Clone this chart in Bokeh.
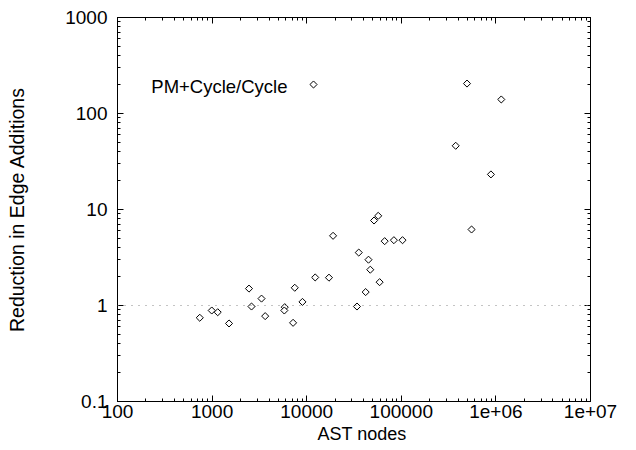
import numpy as np
from bokeh.plotting import figure
from bokeh.models import (LogAxis, FixedTicker, CustomJSTickFormatter, Span, Label, Title,
                          ColumnDataSource, Range1d, LinearScale)
from bokeh.embed import file_html
from bokeh.resources import INLINE

# ---- data ----
ast_nodes = [741, 991, 1146, 1510, 2455, 2610, 3330, 3640, 5860, 5800, 7180, 7480,
             9020, 12300, 17200, 19000, 34000, 35500, 42000, 45000, 47000, 51500,
             57000, 59000, 66700, 83500, 103000, 376000, 553000, 495000, 886000, 1140000]
reduction = [0.745, 0.887, 0.851, 0.65, 1.50, 0.976, 1.18, 0.775, 0.961, 0.887, 0.66, 1.53,
             1.09, 1.96, 1.95, 5.32, 0.976, 3.56, 1.38, 3.0, 2.36, 7.68,
             8.59, 1.75, 4.68, 4.79, 4.79, 46.1, 6.19, 205, 23.2, 140]

x_tick_values = [100, 1000, 10000, 100000, 1000000, 10000000]
x_tick_labels = ["100", "1000", "10000", "100000", "1e+06", "1e+07"]
y_tick_values = [0.1, 1, 10, 100, 1000]
y_tick_labels = ["0.1", "1", "10", "100", "1000"]

series_name = "PM+Cycle/Cycle"
x_title = "AST nodes"
y_title = "Reduction in Edge Additions"

FONT = "Liberation Sans"
FRAME_W, FRAME_H = 473, 384


def minor_of(vals):
    out = []
    for v in vals[:-1]:
        for k in range(2, 10):
            out.append(v * k)
    return out


fmt_code = """
let best = -1, bd = 1e9;
for (let i = 0; i < vals.length; i++) {
  const d = Math.abs(Math.log10(vals[i]) - Math.log10(tick));
  if (d < bd) { bd = d; best = i; }
}
return (bd < 1e-6) ? labs[best] : "";
"""

p = figure(width=636, height=450, x_axis_type="log", y_axis_type="log",
           x_range=(100, 1e7), y_range=(0.1, 1000),
           output_backend="svg", toolbar_location=None,
           min_border_left=117, min_border_right=46, min_border_top=17,
           min_border_bottom=49)
p.xgrid.visible = False
p.ygrid.visible = False
p.outline_line_color = "black"
p.outline_line_width = 1
p.background_fill_color = "white"
p.border_fill_color = "white"

# pixel-space range for the key sample of the legend
p.extra_x_ranges = {"px": Range1d(0, FRAME_W)}
p.extra_y_ranges = {"px": Range1d(0, FRAME_H)}
p.extra_x_scales = {"px": LinearScale()}
p.extra_y_scales = {"px": LinearScale()}

xt = FixedTicker(ticks=x_tick_values, minor_ticks=minor_of(x_tick_values))
yt = FixedTicker(ticks=y_tick_values, minor_ticks=minor_of(y_tick_values))
xf = CustomJSTickFormatter(args=dict(vals=x_tick_values, labs=x_tick_labels), code=fmt_code)
yf = CustomJSTickFormatter(args=dict(vals=y_tick_values, labs=y_tick_labels), code=fmt_code)


def style(ax, ticker, fmt, show_labels):
    ax.ticker = ticker
    ax.formatter = fmt
    ax.major_tick_in = 6
    ax.major_tick_out = 0
    ax.minor_tick_in = 3
    ax.minor_tick_out = 0
    ax.axis_line_color = "black"
    ax.major_tick_line_color = "black"
    ax.minor_tick_line_color = "black"
    ax.major_label_text_font = FONT
    ax.major_label_text_font_size = "19px"
    ax.major_label_text_color = "black"
    ax.axis_label_text_font = FONT
    ax.axis_label_text_font_style = "normal"
    ax.axis_label_text_color = "black"
    if not show_labels:
        ax.major_label_text_font_size = "0px"
        ax.major_label_text_alpha = 0


xa = p.xaxis[0]
ya = p.yaxis[0]
style(xa, xt, xf, True)
style(ya, yt, yf, True)
xa.major_label_standoff = 3
ya.major_label_standoff = 10
ya.axis_label = y_title
ya.axis_label_text_font_size = "19.5px"
ya.axis_label_standoff = 34

top = LogAxis()
right = LogAxis()
style(top, xt, xf, False)
style(right, yt, yf, False)
p.add_layout(top, "above")
p.add_layout(right, "right")

# x title, placed as gnuplot places it
p.add_layout(Title(text=x_title, align="left", offset=200, standoff=3,
                   text_font=FONT, text_font_size="18px", text_font_style="normal",
                   text_color="black"), "below")

p.add_layout(Span(location=1, dimension="width", line_color="#888888",
                  line_dash="1 6", line_width=1))

marker_style = dict(marker="square", angle=np.pi / 4, size=5,
                    fill_color="white", line_color="black", line_width=1)

src = ColumnDataSource(dict(x=ast_nodes, y=reduction))
p.scatter("x", "y", source=src, **marker_style)

# key: text right-aligned, sample to its right (gnuplot style)
p.add_layout(Label(x=170, y=315, x_units="screen", y_units="screen",
                   text=series_name, text_align="right", text_baseline="middle",
                   text_font=FONT, text_font_size="18.5px", text_color="black"))
key_src = ColumnDataSource(dict(x=[196], y=[317]))
p.scatter("x", "y", source=key_src, x_range_name="px", y_range_name="px", **marker_style)

open("out.html", "w").write(file_html(p, INLINE))
